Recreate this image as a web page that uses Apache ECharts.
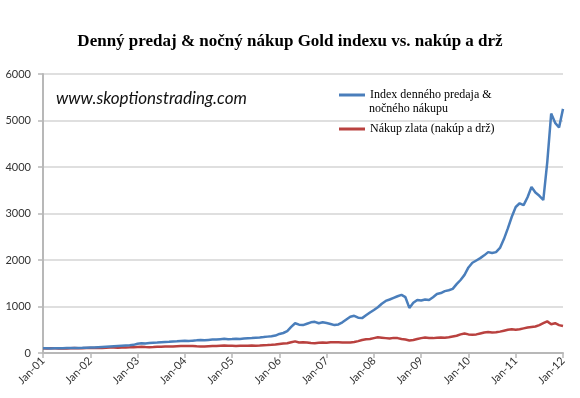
<!DOCTYPE html>
<html>
<head>
<meta charset="utf-8">
<script src="https://cdn.jsdelivr.net/npm/echarts@6/dist/echarts.min.js"></script>
<style>
  html, body { margin: 0; padding: 0; background: #fff; }
  #chart { width: 580px; height: 398px; }
</style>
</head>
<body>
<div id="chart"></div>
<script>
// month offsets from Jan-01, tick labels every January
var yearLabels = ['Jan-01', 'Jan-02', 'Jan-03', 'Jan-04', 'Jan-05', 'Jan-06', 'Jan-07', 'Jan-08', 'Jan-09', 'Jan-10', 'Jan-11', 'Jan-12'];

var seriesNames = ['Index denného predaja & nočného nákupu', 'Nákup zlata (nakúp a drž)'];

// Index denného predaja & nočného nákupu (monthly, Jan-01 .. Jan-12)
var indexValues = [
  100, 102, 98, 101, 104, 103, 106, 108, 105, 110, 112, 115,
  118, 120, 125, 130, 135, 140, 145, 150, 155, 160, 165, 175,
  200, 212, 205, 215, 222, 226, 232, 238, 242, 248, 252, 258,
  262, 256, 266, 272, 282, 276, 282, 288, 292, 298, 304, 298,
  302, 308, 303, 312, 318, 322, 328, 334, 342, 352, 362, 375,
  410, 430, 470, 560, 640, 610, 600, 630, 660, 670, 640, 660,
  645, 625, 600, 615, 660, 720, 780, 800, 760, 750, 810, 870,
  925, 985, 1060, 1120, 1150, 1185, 1220, 1250, 1200, 970, 1080, 1140,
  1130, 1150, 1140, 1200, 1270, 1290, 1330, 1350, 1380, 1480, 1570, 1680,
  1840, 1940, 1990, 2040, 2100, 2170, 2150, 2170, 2260, 2450, 2680, 2930,
  3140, 3220, 3180, 3350, 3570, 3450, 3380, 3290, 4100, 5150, 4950, 4850,
  5250
];

// Nákup zlata (nakúp a drž)
var goldValues = [
  100, 98, 102, 100, 97, 101, 99, 103, 106, 104, 102, 105,
  108, 110, 112, 110, 115, 118, 116, 114, 118, 120, 122, 125,
  130, 135, 128, 126, 128, 132, 135, 138, 140, 142, 145, 148,
  150, 148, 152, 145, 140, 142, 145, 148, 150, 155, 160, 158,
  155, 152, 155, 158, 155, 160, 158, 162, 168, 172, 178, 185,
  195, 205, 210, 230, 250, 225, 230, 228, 215, 210, 218, 225,
  222, 230, 232, 230, 228, 225, 228, 235, 255, 280, 295, 300,
  320, 340, 330, 320, 310, 325, 320, 300, 290, 270, 280, 300,
  320, 335, 325, 320, 330, 335, 330, 340, 355, 370, 400, 420,
  400, 395, 400, 420, 440, 450, 440, 445, 460, 480, 500, 510,
  500, 510, 530, 550, 560, 570, 600, 640, 680, 620, 640, 600,
  580
];

var yTicks = { min: 0, max: 6000, interval: 1000 };

function toPairs(values) {
  return values.map(function (v, i) { return [i, v]; });
}

var myChart = echarts.init(document.getElementById('chart'));
var option = {
  animation: false,
  backgroundColor: '#fff',
  title: [{
    text: 'Denný predaj & nočný nákup Gold indexu vs. nakúp a drž',
    left: 'center',
    top: 28,
    textStyle: {
      fontFamily: 'Liberation Serif',
      fontWeight: 'bold',
      fontSize: 17,
      color: '#000'
    }
  }, {
    text: 'www.skoptionstrading.com',
    left: 51,
    top: 85,
    textStyle: {
      fontFamily: 'Lato',
      fontStyle: 'italic',
      fontWeight: 'normal',
      fontSize: 17,
      color: '#111'
    }
  }, {
    // second line of the first legend entry
    text: 'nočného nákupu',
    left: 364,
    top: 98,
    textStyle: {
      fontFamily: 'Liberation Serif',
      fontWeight: 'normal',
      fontSize: 12,
      color: '#000'
    }
  }],
  legend: {
    orient: 'vertical',
    left: 334,
    top: 84,
    itemWidth: 26,
    itemHeight: 3,
    itemGap: 22,
    icon: 'rect',
    textStyle: {
      fontFamily: 'Liberation Serif',
      fontSize: 12,
      color: '#000'
    },
    formatter: function (name) {
      return name === seriesNames[0] ? 'Index denného predaja &' : name;
    },
    data: seriesNames
  },
  grid: {
    left: 43,
    right: 17,
    top: 74,
    bottom: 45
  },
  xAxis: {
    type: 'value',
    min: 0,
    max: 132,
    interval: 12,
    axisLine: {
      lineStyle: { color: '#b8b8b8', width: 2 }
    },
    axisTick: {
      show: true,
      length: 5,
      lineStyle: { color: '#b8b8b8', width: 1.5 }
    },
    axisLabel: {
      rotate: 45,
      fontFamily: 'Lato',
      fontSize: 11,
      color: '#333',
      margin: 6,
      formatter: function (v) { return yearLabels[v / 12]; }
    },
    splitLine: { show: false }
  },
  yAxis: {
    type: 'value',
    min: yTicks.min,
    max: yTicks.max,
    interval: yTicks.interval,
    axisLine: {
      show: true,
      lineStyle: { color: '#b8b8b8', width: 2 }
    },
    axisTick: {
      show: true,
      length: 5,
      lineStyle: { color: '#b8b8b8', width: 1.5 }
    },
    axisLabel: {
      fontFamily: 'Lato',
      fontSize: 11,
      color: '#333',
      margin: 12,
      formatter: function (v) { return String(v); }
    },
    splitLine: {
      lineStyle: { color: '#d4d4d4', width: 1.5 }
    }
  },
  series: [{
    name: seriesNames[0],
    type: 'line',
    showSymbol: false,
    color: '#4a7ebb',
    lineStyle: { width: 2.5, color: '#4a7ebb' },
    data: toPairs(indexValues),
    z: 3
  }, {
    name: seriesNames[1],
    type: 'line',
    showSymbol: false,
    color: '#b9413f',
    lineStyle: { width: 2.5, color: '#b9413f' },
    data: toPairs(goldValues),
    z: 2
  }]
};
myChart.setOption(option, true);
</script>
</body>
</html>
